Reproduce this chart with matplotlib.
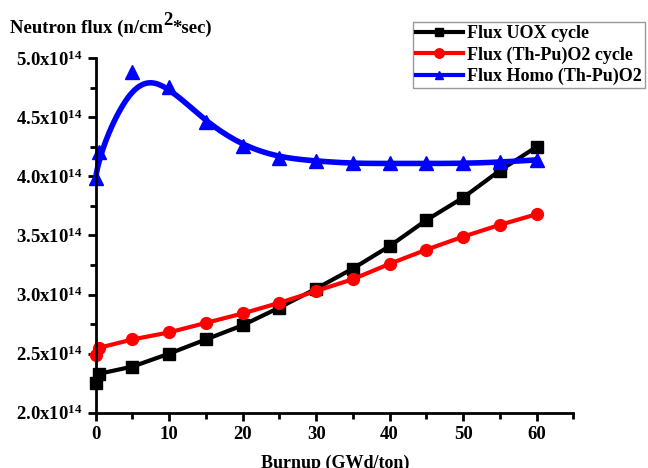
import numpy as np
import matplotlib
matplotlib.use("Agg")
import matplotlib.pyplot as plt
from matplotlib.ticker import MultipleLocator, FuncFormatter

burnup = [0, 0.5, 5, 10, 15, 20, 25, 30, 35, 40, 45, 50, 55, 60]
flux_uox = [2.25, 2.33, 2.39, 2.50, 2.62, 2.74, 2.89, 3.05, 3.22, 3.41, 3.63, 3.82, 4.05, 4.25]
flux_thpu = [2.49, 2.55, 2.62, 2.68, 2.76, 2.84, 2.93, 3.03, 3.13, 3.26, 3.38, 3.49, 3.59, 3.68]
flux_homo = [3.99, 4.21, 4.88, 4.76, 4.46, 4.26, 4.16, 4.13, 4.11, 4.11, 4.11, 4.11, 4.12, 4.14]
labels = ["Flux UOX cycle", "Flux (Th-Pu)O2 cycle", "Flux Homo (Th-Pu)O2"]


def bspline(px, py, k=3, n=400):
    P = np.column_stack([px, py])
    m = len(P)
    inner = np.arange(1, m - k) / (m - k)
    t = np.concatenate([np.zeros(k + 1), inner, np.ones(k + 1)])
    us = np.linspace(0, 1, n)
    out = []
    for u in us:
        if u >= 1.0:
            out.append(P[-1]); continue
        j = np.searchsorted(t, u, side="right") - 1
        d = [P[j - k + i].copy() for i in range(k + 1)]
        for r in range(1, k + 1):
            for i in range(k, r - 1, -1):
                a = (u - t[j - k + i]) / (t[j + 1 + i - r] - t[j - k + i])
                d[i] = (1 - a) * d[i - 1] + a * d[i]
        out.append(d[k])
    out = np.array(out)
    return out[:, 0], out[:, 1]


plt.rcParams['font.family'] = ['Liberation Serif', 'DejaVu Serif']
plt.rcParams['font.weight'] = 'bold'
plt.rcParams['mathtext.fontset'] = 'custom'
plt.rcParams['mathtext.rm'] = 'Liberation Serif:bold'
plt.rcParams['mathtext.it'] = 'Liberation Serif:bold'
plt.rcParams['mathtext.bf'] = 'Liberation Serif:bold'

fig = plt.figure(figsize=(6.48, 4.68), dpi=100)
ax = fig.add_axes([0.1477, 0.1182, 0.7370, 0.7572])

ax.plot(burnup, flux_uox, color='black', lw=3, marker='s', ms=8, label=labels[0], clip_on=False)
ax.plot(burnup, flux_thpu, color='red', lw=3, marker='o', ms=8.5, label=labels[1], clip_on=False)
sx, sy = bspline(burnup, flux_homo)
ax.plot(sx, sy, color='blue', lw=4, clip_on=False)
ax.plot(burnup, flux_homo, color='blue', lw=0, marker='^', ms=10, clip_on=False)
ax.plot([], [], color='blue', lw=3, marker='^', ms=8, label=labels[2])

ax.set_xlim(0, 65)
ax.set_ylim(2.0, 5.0)
ax.xaxis.set_major_locator(MultipleLocator(10))
ax.xaxis.set_minor_locator(MultipleLocator(5))
ax.yaxis.set_major_locator(MultipleLocator(0.5))
ax.yaxis.set_minor_locator(MultipleLocator(0.25))
ax.yaxis.set_major_formatter(FuncFormatter(lambda v, p: r"%.1fx10$^{14}$" % v))
ax.xaxis.set_major_formatter(FuncFormatter(lambda v, p: "%d" % v if v <= 60 else ""))

for s in ['top', 'right']:
    ax.spines[s].set_visible(False)
for s in ['left', 'bottom']:
    ax.spines[s].set_linewidth(2)
ax.tick_params(which='major', direction='out', length=6, width=2, labelsize=13.5)
ax.tick_params(which='minor', direction='out', length=4, width=2)
for lab in ax.get_xticklabels() + ax.get_yticklabels():
    lab.set_fontweight('bold')

# y-axis title in pieces (large superscript)
fig.canvas.draw()
r = fig.canvas.get_renderer()
base = 0.93
t1 = fig.text(0.016, base, "Neutron flux (n/cm", fontsize=13.5, fontweight='bold', va='baseline')
bb = t1.get_window_extent(r)
t2 = fig.text(bb.x1 / 648, base + 0.016, "2", fontsize=13.5, fontweight='bold', va='baseline')
bb2 = t2.get_window_extent(r)
fig.text(bb2.x1 / 648, base, "*sec)", fontsize=13.5, fontweight='bold', va='baseline')

fig.text(0.518, 0.010, "Burnup (GWd/ton)", fontsize=13, fontweight='bold', ha='center', va='center')

leg = ax.legend(loc='upper left', bbox_to_anchor=(0.637, 0.953), bbox_transform=fig.transFigure,
                frameon=True, fancybox=False, fontsize=13, handlelength=2.6, handletextpad=0.25,
                borderpad=0.17, labelspacing=0.24, borderaxespad=0, markerscale=0.8)
leg.get_frame().set_edgecolor('gray')
leg.get_frame().set_linewidth(1)
for t in leg.get_texts():
    t.set_fontweight('bold')

fig.savefig("out.png", dpi=100)
